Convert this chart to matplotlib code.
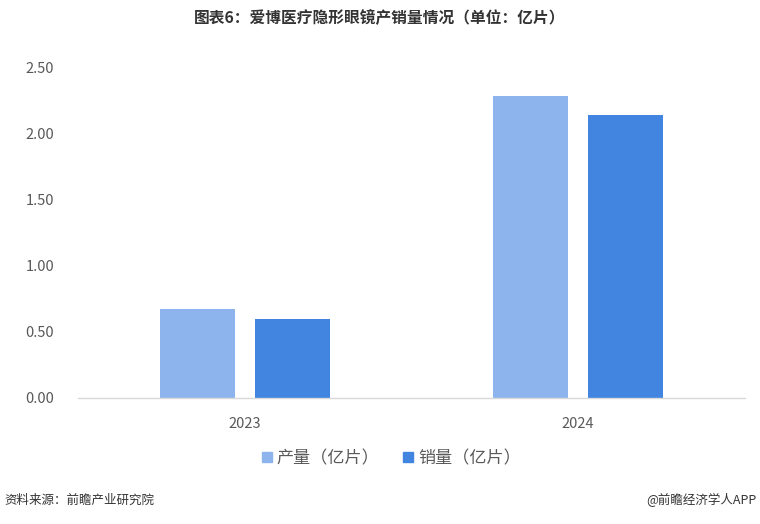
import matplotlib
matplotlib.use("Agg")
import matplotlib.pyplot as plt
import numpy as np
from matplotlib.patches import Patch

plt.rcParams['font.family'] = ['Noto Sans CJK SC', 'DejaVu Sans']

years = ["2023", "2024"]
production = [0.67, 2.28]
sales = [0.60, 2.14]
series_names = ["产量（亿片）", "销量（亿片）"]
colors = ["#8DB4EC", "#4285E0"]

fig = plt.figure(figsize=(7.6, 5.24), dpi=100)
ax = fig.add_axes([0.1026, 0.2405, 0.8774, 0.6315])

x = np.arange(len(years))
w = 0.225
off = 0.142
ax.bar(x - off, production, width=w, color=colors[0])
ax.bar(x + off, sales, width=w, color=colors[1])

ax.set_xlim(-0.5, 1.5)
ax.set_ylim(0, 2.5)
ax.set_yticks(np.arange(0, 2.51, 0.5))
ax.set_yticklabels([f"{v:.2f}" for v in np.arange(0, 2.51, 0.5)])
ax.set_xticks(x)
ax.set_xticklabels(years)
ax.tick_params(axis='both', length=0, labelsize=10.5, colors="#595959")
ax.tick_params(axis='y', pad=17)
ax.tick_params(axis='x', pad=14)
for s in ["top", "right", "left"]:
    ax.spines[s].set_visible(False)
ax.spines["bottom"].set_color("#D9D9D9")
ax.spines["bottom"].set_linewidth(1)

handles = [Patch(color=c) for c in colors]
fig.legend(handles, series_names, loc="center", bbox_to_anchor=(0.515, 0.126),
           ncol=2, frameon=False, fontsize=12.3, handlelength=0.55, handleheight=0.55,
           handletextpad=0.3, columnspacing=1.4, labelcolor="#595959")

fig.text(0.5, 0.965, "图表6：爱博医疗隐形眼镜产销量情况（单位：亿片）", ha="center", va="center",
         fontsize=11.3, fontweight="bold", color="#333333")
fig.text(0.006, 0.045, "资料来源：前瞻产业研究院", ha="left", va="center", fontsize=9, color="#333333")
fig.text(0.996, 0.045, "@前瞻经济学人APP", ha="right", va="center", fontsize=9, color="#333333")

fig.savefig("out.png", dpi=100)
